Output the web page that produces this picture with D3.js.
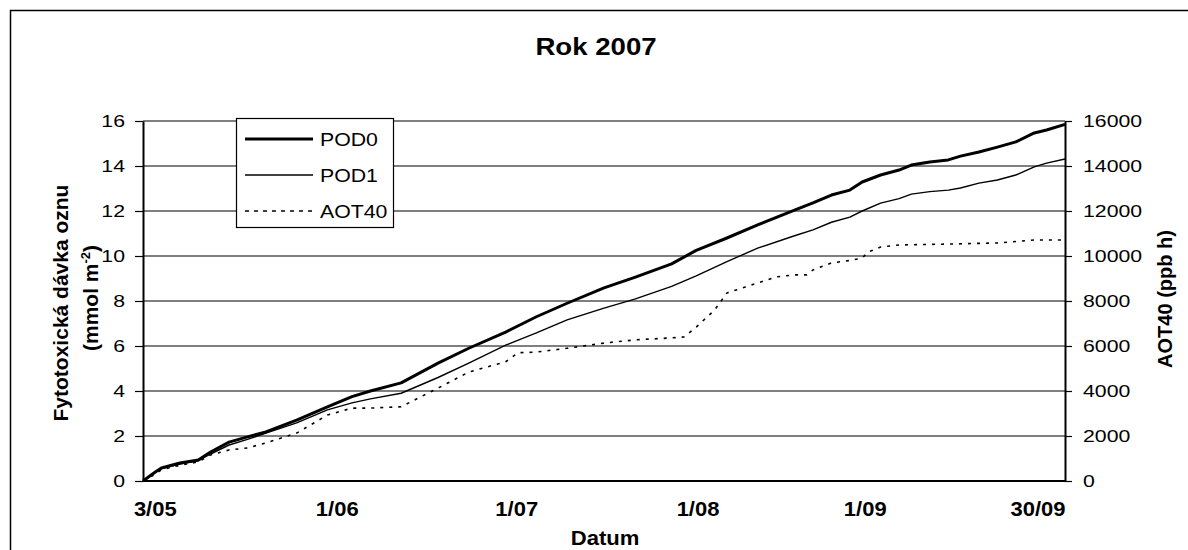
<!DOCTYPE html>
<html><head><meta charset="utf-8">
<script src="https://cdn.jsdelivr.net/npm/d3@7"></script>
<style>
body{margin:0;background:#fff}
svg{display:block}
text{font-family:"Liberation Sans",Arial,sans-serif;fill:#000}
</style>
</head><body>
<svg id="c" width="1188" height="550"></svg>
<script>
// ---- data ----
const chartTitle = "Rok 2007";
const podDays = [0,2,3,6,9,11,14,17,20,25,30,34,37,42,48,53,59,64,69,75,80,86,90,95,100,106,109,112,115,117,120,123,125,128,131,133,136,139,142,145,147,150];
const pod0 = [0,0.4,0.58,0.8,0.93,1.29,1.73,1.96,2.18,2.71,3.29,3.75,4.0,4.36,5.24,5.9,6.62,7.3,7.9,8.58,9.05,9.65,10.25,10.8,11.38,12.04,12.36,12.71,12.93,13.29,13.6,13.82,14.04,14.18,14.27,14.44,14.62,14.84,15.07,15.47,15.6,15.85];
const pod1 = [0,0.38,0.55,0.75,0.9,1.2,1.6,1.85,2.13,2.58,3.16,3.47,3.65,3.9,4.6,5.24,6.04,6.58,7.16,7.68,8.08,8.65,9.12,9.75,10.35,10.9,11.16,11.5,11.73,12.0,12.35,12.55,12.75,12.86,12.93,13.02,13.24,13.38,13.6,13.96,14.13,14.31];
const aotDays = [0,2,3,6,9,11,14,17,20,25,30,34,37,42,48,53,59,61,64,69,75,80,86,88,90,93,95,98,100,103,106,108,109,112,115,117,118,120,123,131,139,145,150];
const aot40 = [0,300,500,700,850,1160,1380,1470,1690,2130,2930,3240,3240,3300,4130,4840,5300,5700,5730,5900,6130,6270,6360,6400,6840,7600,8360,8620,8800,9070,9160,9160,9380,9690,9800,9910,10180,10400,10490,10530,10580,10710,10710];
const xTickDays = [2,31.6,60.8,90.3,117.5,145.6];
const xTickLabels = ["3/05","1/06","1/07","1/08","1/09","30/09"];
const leftTicks = [0,2,4,6,8,10,12,14,16];
const rightTicks = [0,2000,4000,6000,8000,10000,12000,14000,16000];
const seriesNames = ["POD0","POD1","AOT40"];
const xTitle = "Datum";
const yTitle1 = "Fytotoxická dávka oznu";
const yTitle2 = "(mmol m";
const yTitleSup = "-2";
const y2Title = "AOT40 (ppb h)";

// ---- layout ----
const svg = d3.select("#c");
const P = {l:143, r:1065, t:121, b:481};
const x = d3.scaleLinear().domain([0,150]).range([P.l,P.r]);
const yL = d3.scaleLinear().domain([0,16]).range([P.b,P.t]);
const yR = d3.scaleLinear().domain([0,16000]).range([P.b,P.t]);

function txt(str, tx, ty, o={}) {
  const size=o.size||17, sx=o.sx||1, rot=o.rot||0;
  let tr = `translate(${tx},${ty}) scale(${sx},1)`;
  if (rot) tr += ` rotate(${rot})`;
  return svg.append("text").attr("transform",tr)
    .attr("font-size",size).attr("font-weight",o.weight||"normal")
    .attr("text-anchor",o.anchor||"middle").text(str);
}

// outer frame
svg.append("rect").attr("x",10.5).attr("y",10.5).attr("width",1300).attr("height",700)
  .attr("fill","none").attr("stroke","#000").attr("stroke-width",1.5);

// title
txt(chartTitle, 596, 55, {size:24, weight:"bold", sx:1.15});

// gridlines
svg.append("g").selectAll("line").data(leftTicks).join("line")
  .attr("x1",P.l).attr("x2",P.r)
  .attr("y1",d=>yL(d)).attr("y2",d=>yL(d))
  .attr("stroke","#000").attr("stroke-width",d=>d===0?2:1.2);

// left axis
const gL = svg.append("g").attr("transform",`translate(${P.l},0)`)
  .call(d3.axisLeft(yL).tickValues(leftTicks).tickSize(8).tickSizeOuter(0).tickFormat(""));
gL.select(".domain").attr("stroke","#000").attr("stroke-width",2);
gL.selectAll(".tick line").attr("stroke","#000").attr("stroke-width",1.2);
leftTicks.forEach(t => txt(String(t), 125, yL(t)+6, {size:17, anchor:"end", sx:1.25}));

// right axis
const gR = svg.append("g").attr("transform",`translate(${P.r},0)`)
  .call(d3.axisRight(yR).tickValues(rightTicks).tickSize(7).tickSizeOuter(0).tickFormat(""));
gR.select(".domain").attr("stroke","#000").attr("stroke-width",2);
gR.selectAll(".tick line").attr("stroke","#000").attr("stroke-width",1.2);
rightTicks.forEach(t => txt(String(t), 1083, yR(t)+6, {size:17, anchor:"start", sx:1.25}));

// x tick labels
xTickDays.forEach((d,i) => txt(xTickLabels[i], x(d), 516, {size:20, weight:"bold", sx:1.1}));

// axis titles
txt(xTitle, 605, 545, {size:21, weight:"bold", sx:1.05});
txt(yTitle1, 68, 303, {size:21, weight:"bold", rot:-90});
const t2 = txt(yTitle2, 98, 298, {size:21, weight:"bold", rot:-90});
t2.append("tspan").attr("dy",-8).attr("font-size",13).text(yTitleSup);
t2.append("tspan").attr("dy",8).text(")");
txt(y2Title, 1172, 299, {size:20, weight:"bold", rot:-90});

// series
const line = d3.line().x(d=>x(d[0])).y(d=>d[1]);
const s0 = podDays.map((d,i)=>[d, yL(pod0[i])]);
const s1 = podDays.map((d,i)=>[d, yL(pod1[i])]);
const s2 = aotDays.map((d,i)=>[d, yR(aot40[i])]);
const styles = [
  {w:3, dash:null},
  {w:1.4, dash:null},
  {w:1.6, dash:"3,6"}
];
[s2,s1,s0].forEach((s,k)=>{
  const st = styles[2-k];
  svg.append("path").attr("d",line(s)).attr("fill","none")
    .attr("stroke","#000").attr("stroke-width",st.w)
    .attr("stroke-dasharray",st.dash).attr("stroke-linejoin","round");
});

// legend
const lg = svg.append("g");
lg.append("rect").attr("x",236.5).attr("y",118.5).attr("width",157).attr("height",109)
  .attr("fill","#fff").attr("stroke","#000").attr("stroke-width",1.2);
const legY = [139,175,211];
seriesNames.forEach((n,i)=>{
  lg.append("line").attr("x1",245).attr("x2",313).attr("y1",legY[i]).attr("y2",legY[i])
    .attr("stroke","#000").attr("stroke-width",styles[i].w)
    .attr("stroke-dasharray",i===2?"4,5":null);
  txt(n, 320, legY[i]+7, {size:19, anchor:"start", sx:1.12});
});
</script>
</body></html>
